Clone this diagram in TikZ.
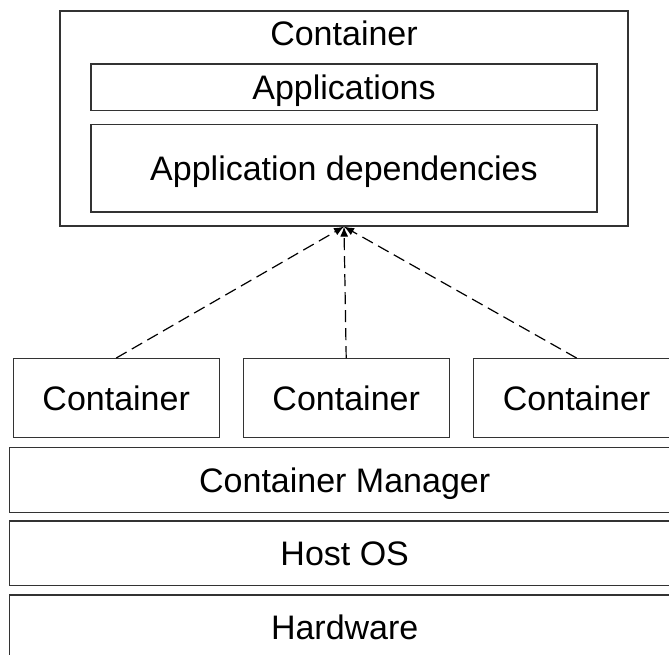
\documentclass[tikz,border=0pt]{standalone}
\usepackage{fontspec}
\setmainfont{Liberation Sans}
\usetikzlibrary{arrows.meta}

\definecolor{edge}{rgb}{0.2,0.2,0.2}

\begin{document}
\begin{tikzpicture}[x=1pt, y=1pt,
        box/.style={draw=edge, line width=1.3pt, inner sep=0pt, font=\fontsize{34}{40}\selectfont, text height=24.3pt, text depth=0pt},
        layer/.style={box, minimum width=671pt, minimum height=64.5pt},
        unit/.style={box, minimum width=206pt, minimum height=78.6pt},
        link/.style={draw=black, line width=1.2pt, dash pattern=on 12pt off 6pt, -{Latex[length=10pt,width=8pt]}}]
        \useasboundingbox (0,0) rectangle (669,655);

        \node[box, minimum width=568pt, minimum height=215pt] (ctr) at (344,536.5) {};
        \node[box, draw=none] (title) at (344,622) {Container};
        \node[box, minimum width=506pt, minimum height=46.5pt] (apps) at (344,567.7) {Applications};
        \node[box, minimum width=506pt, minimum height=87.3pt] (deps) at (344,486.7) {Application dependencies};

        \node[unit] (c1) at (116.2,257) {Container};
        \node[unit] (c2) at (346.2,257) {Container};
        \node[unit] (c3) at (576.6,257) {Container};

        \node[layer] (mgr) at (344.7,175) {Container Manager};
        \node[layer] (os) at (344.7,101.8) {Host OS};
        \node[layer] (hw) at (344.7,27.8) {Hardware};

        \draw[link] (c1.north) -- (ctr.south);
        \draw[link] (c2.north) -- (ctr.south);
        \draw[link] (c3.north) -- (ctr.south);
    \end{tikzpicture}
\end{document}
